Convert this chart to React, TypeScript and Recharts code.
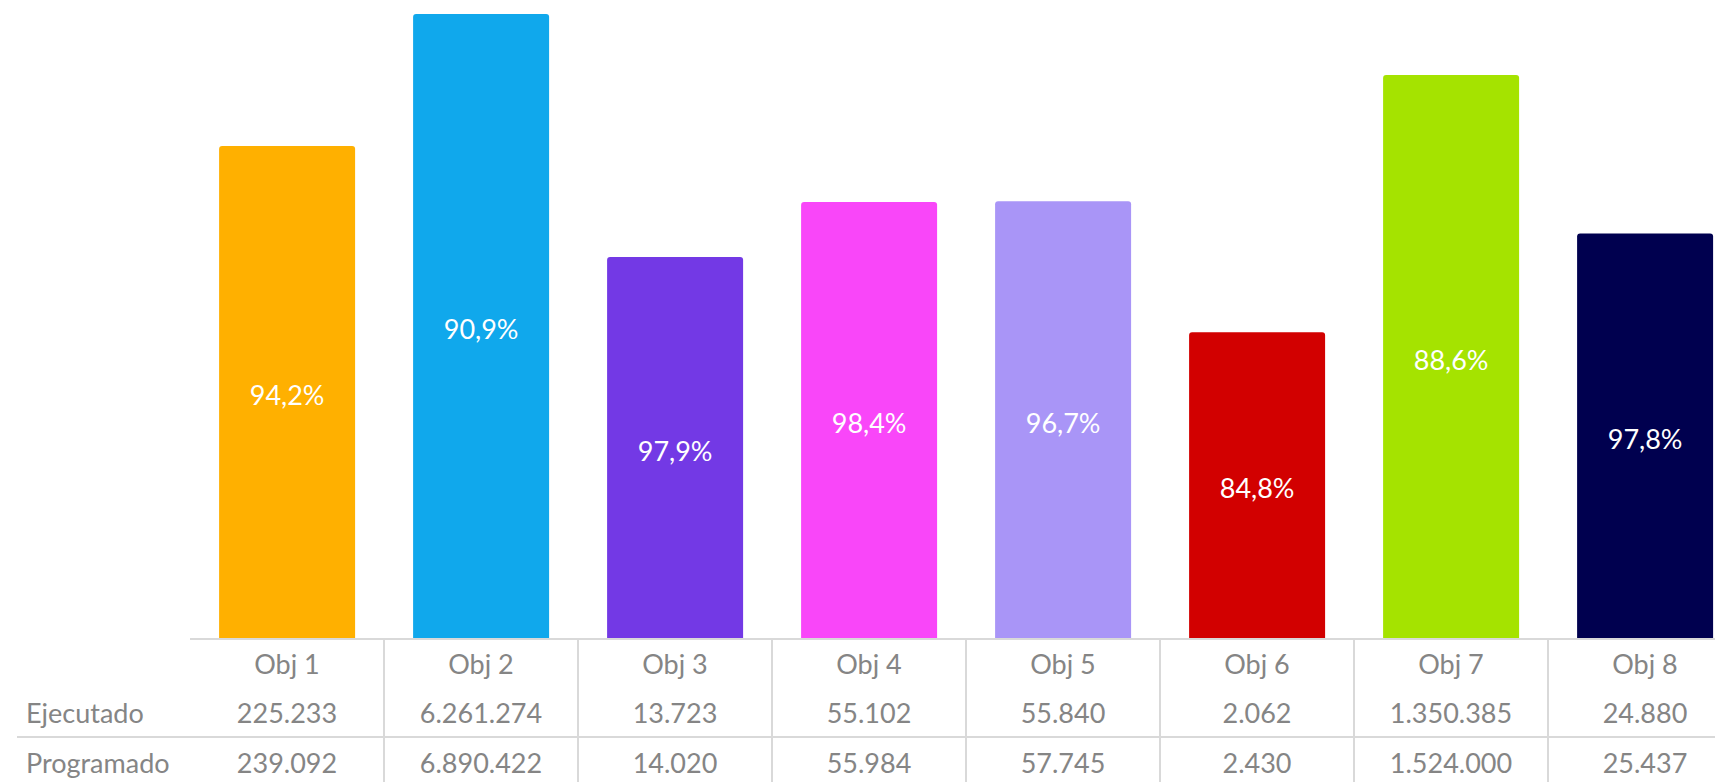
import React from 'react';
import { BarChart, Bar, XAxis, YAxis, Cell, LabelList } from 'recharts';

const categories = ['Obj 1', 'Obj 2', 'Obj 3', 'Obj 4', 'Obj 5', 'Obj 6', 'Obj 7', 'Obj 8'];
const ejecutado = [225233, 6261274, 13723, 55102, 55840, 2062, 1350385, 24880];
const programado = [239092, 6890422, 14020, 55984, 57745, 2430, 1524000, 25437];
const percentLabels = ['94,2%', '90,9%', '97,9%', '98,4%', '96,7%', '84,8%', '88,6%', '97,8%'];
const rowLabels = ['Ejecutado', 'Programado'];
const colors = ['#FFB000', '#10A8EC', '#7339E5', '#F946F9', '#A995F7', '#D20000', '#A5E300', '#00004F'];

const data = categories.map((name, i) => ({
  name,
  ejecutado: ejecutado[i],
  programado: programado[i],
  pct: percentLabels[i],
}));

const fmt = (v: number) => String(v).replace(/\B(?=(\d{3})+(?!\d))/g, '.');

const W = 1760;
const H = 782;
const LEFT = 190;
const RIGHT = 18;
const BASE = 639;
const BW = (W - LEFT - RIGHT) / categories.length;
const FONT = 'Lato, "Open Sans", sans-serif';
const TEXT = '#858585';
const GRID = '#d9d9d9';

function TableTick(props: any) {
  const { x, index, payload } = props;
  const i = index as number;
  return (
    <g>
      {i === 0 && (
        <g>
          <line x1={17} x2={W} y1={BASE + 98} y2={BASE + 98} stroke={GRID} strokeWidth={2} />
          {rowLabels.map((r, k) => (
            <text key={r} x={26} y={BASE + 73 + k * 50} dominantBaseline="central" fill={TEXT} fontSize={27} fontFamily={FONT}>
              {r}
            </text>
          ))}
        </g>
      )}
      {i > 0 && (
        <line x1={x - BW / 2} x2={x - BW / 2} y1={BASE} y2={H} stroke={GRID} strokeWidth={2} />
      )}
      <text x={x} y={BASE + 24} textAnchor="middle" dominantBaseline="central" fill={TEXT} fontSize={27} fontFamily={FONT}>
        {payload.value}
      </text>
      <text x={x} y={BASE + 73} textAnchor="middle" dominantBaseline="central" fill={TEXT} fontSize={27} fontFamily={FONT}>
        {fmt(ejecutado[i])}
      </text>
      <text x={x} y={BASE + 123} textAnchor="middle" dominantBaseline="central" fill={TEXT} fontSize={27} fontFamily={FONT}>
        {fmt(programado[i])}
      </text>
    </g>
  );
}

export default function App() {
  return (
    <div style={{ position: 'absolute', left: 0, top: 0, width: 1715, height: 782, overflow: 'hidden', background: '#fff' }}>
      <BarChart width={W} height={H} data={data} margin={{ top: 0, right: RIGHT, bottom: 0, left: LEFT }} barCategoryGap="15%">
        <XAxis
          dataKey="name"
          height={H - BASE}
          interval={0}
          tickLine={false}
          axisLine={{ stroke: GRID, strokeWidth: 2 }}
          tick={<TableTick />}
        />
        <YAxis hide type="number" scale="log" domain={[0.91, 8.91e6]} allowDataOverflow />
        <Bar dataKey="ejecutado" isAnimationActive={false} radius={[3, 3, 0, 0]}>
          {data.map((d, i) => (
            <Cell key={d.name} fill={colors[i]} />
          ))}
          <LabelList dataKey="pct" position="center" fill="#ffffff" fontSize={27} fontFamily={FONT} dy={3} />
        </Bar>
      </BarChart>
    </div>
  );
}
